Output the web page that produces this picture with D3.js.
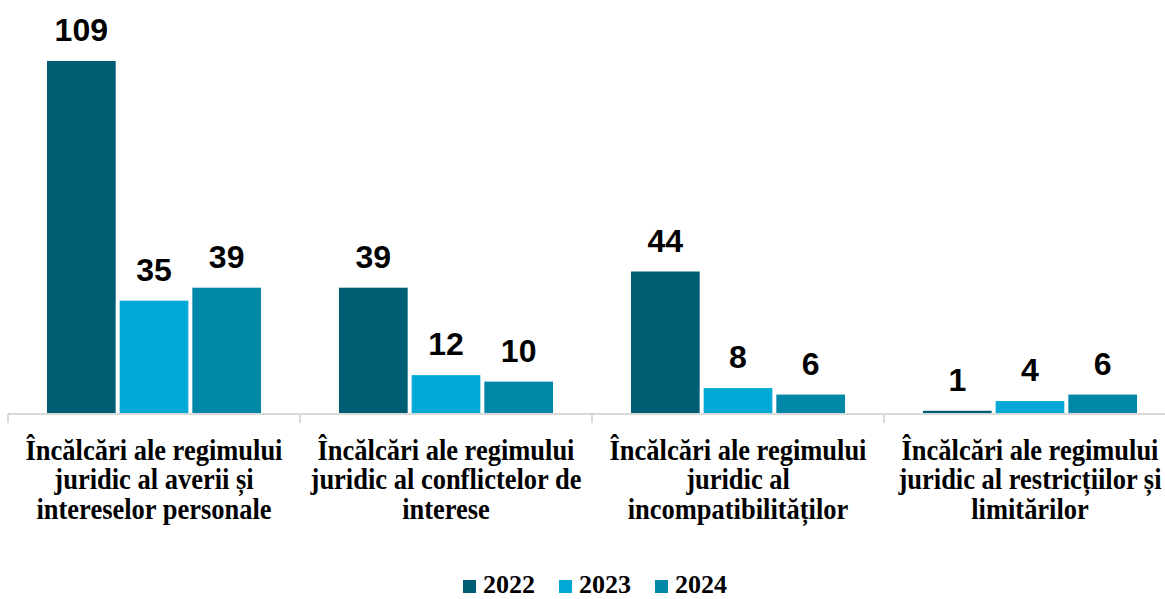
<!DOCTYPE html>
<html><head><meta charset="utf-8">
<script src="https://cdn.jsdelivr.net/npm/d3@7"></script>
<style>body{margin:0;background:#fff}svg{display:block}</style>
</head><body>
<svg id="c" width="1165" height="599"></svg>
<script>
const categories = [
  ["Încălcări ale regimului", "juridic al averii și", "intereselor personale"],
  ["Încălcări ale regimului", "juridic al conflictelor de", "interese"],
  ["Încălcări ale regimului", "juridic al", "incompatibilităților"],
  ["Încălcări ale regimului", "juridic al restricțiilor și", "limitărilor"]
];
const seriesNames = ["2022", "2023", "2024"];
const values2022 = [109, 39, 44, 1];
const values2023 = [35, 12, 8, 4];
const values2024 = [39, 10, 6, 6];
const seriesValues = [values2022, values2023, values2024];
const colors = ["#005E74", "#00A9D5", "#0087A8"];

const svg = d3.select("#c");
const catIdx = categories.map((d,i)=>i);
const x0 = d3.scaleBand().domain(catIdx).range([8, 1176]).paddingInner(0.267).paddingOuter(0.1335);
const x1 = d3.scaleBand().domain(seriesNames).range([0, x0.bandwidth()]).paddingInner(0.055).paddingOuter(0);
const y = d3.scaleLinear().domain([0, 109]).range([414, 61]);
const color = d3.scaleOrdinal().domain(seriesNames).range(colors);

// bars
const groups = svg.append("g").selectAll("g").data(catIdx).join("g")
  .attr("transform", i => `translate(${x0(i)},0)`);
const cells = groups.selectAll("g").data(i => seriesNames.map((s,k)=>({s, v: seriesValues[k][i]}))).join("g");
cells.append("rect")
  .attr("x", d => x1(d.s)).attr("width", x1.bandwidth())
  .attr("y", d => y(d.v)).attr("height", d => y(0) - y(d.v))
  .attr("fill", d => color(d.s));
cells.append("text")
  .attr("x", d => x1(d.s) + x1.bandwidth()/2)
  .attr("y", d => y(d.v) - 20)
  .attr("text-anchor", "middle")
  .attr("font-family", "Liberation Sans, Arial, sans-serif")
  .attr("font-weight", "bold").attr("font-size", 32)
  .attr("fill", "#000")
  .text(d => d.v);

// axis line & ticks
const axisG = svg.append("g");
axisG.append("line").attr("x1", 8).attr("x2", 1176).attr("y1", 414).attr("y2", 414)
  .attr("stroke", "#d9d9d9").attr("stroke-width", 2);
const bounds = catIdx.map(i => x0(i) - x0.step()*x0.paddingOuter()).concat([1176]);
axisG.selectAll("line.t").data(bounds).join("line").attr("class","t")
  .attr("x1", d=>d).attr("x2", d=>d).attr("y1", 414).attr("y2", 423)
  .attr("stroke", "#d9d9d9").attr("stroke-width", 2);

// category labels (slightly condensed serif, as in the reference)
const lab = svg.append("g").selectAll("text").data(catIdx).join("text")
  .attr("text-anchor", "middle")
  .attr("font-family", "Liberation Serif, Times New Roman, serif")
  .attr("font-weight", "bold").attr("font-size", 29)
  .attr("fill", "#000");
lab.each(function(i){
  const t = d3.select(this);
  categories[i].forEach((line, k) => {
    t.append("tspan").attr("x", 0).attr("y", 460 + k*29.5).text(line);
  });
});
const firstW = lab.node().querySelector("tspan").getComputedTextLength();
const sx = 257 / firstW;
lab.attr("transform", i => `translate(${x0(i) + x0.bandwidth()/2},0) scale(${sx},1)`);

// legend
const legX = [463, 559, 655];
const leg = svg.append("g").selectAll("g").data(seriesNames).join("g")
  .attr("transform", (d,i)=>`translate(${legX[i]},0)`);
leg.append("rect").attr("x",0).attr("y",580).attr("width",13).attr("height",13).attr("fill", d=>color(d));
leg.append("text").attr("x", 20).attr("y", 593)
  .attr("font-family", "Liberation Serif, Times New Roman, serif")
  .attr("font-weight", "bold").attr("font-size", 26).attr("fill","#000")
  .text(d=>d);
</script>
</body></html>
